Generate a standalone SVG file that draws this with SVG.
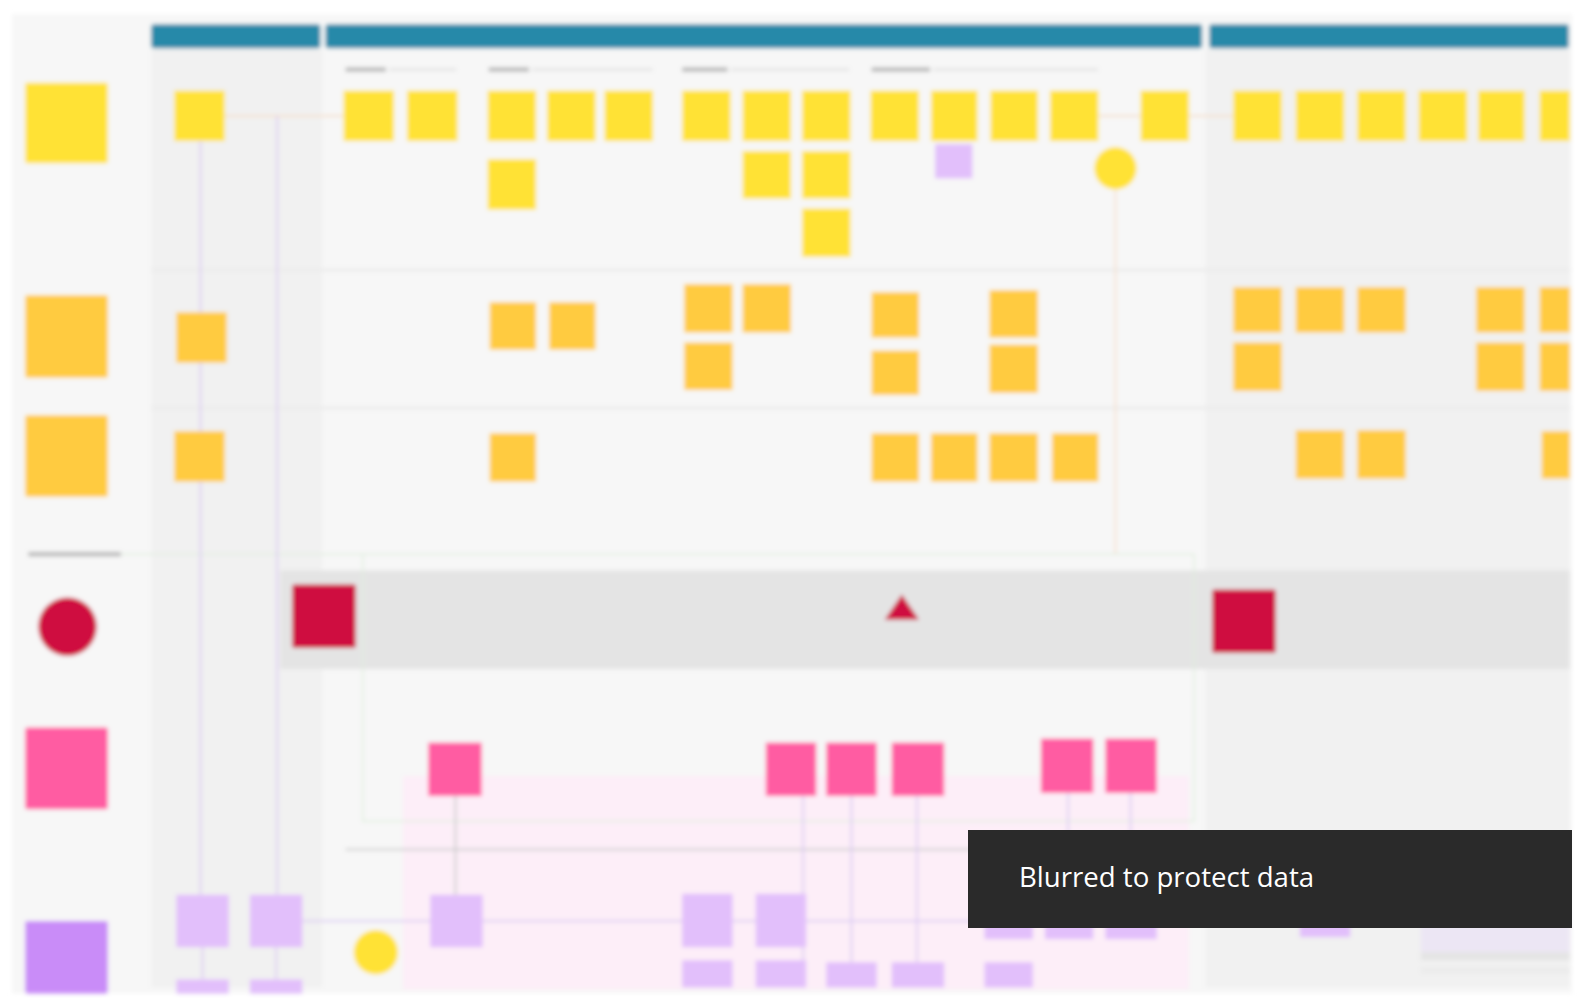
<svg xmlns="http://www.w3.org/2000/svg" width="1580" height="998" viewBox="0 0 1580 998">
<style>
.board{fill:#f7f7f7}
.colA{fill:#f1f1f1}
.hdr{fill:#2789a9}
.ya{fill:#ffe236}
.yt{fill:#ffcb40}
.red{fill:#cf0f40}
.pk{fill:#ff5ca2}
.pl{fill:#c98cf8}
.lp{fill:#e2bffb}
.div{stroke:#ececec;stroke-width:3}
.sl{fill:#b4b4b4}
.sline{stroke:#e6e6e6;stroke-width:3}
.vline{stroke:#ddcdf3;stroke-width:2;fill:none}
.gline{stroke:#cdcdcd;stroke-width:2;fill:none}
.oline{stroke:#f6dcc4;stroke-width:1.5;fill:none}
.grn{stroke:#dfeedd;stroke-width:1.5;fill:none}
.ovt{font-family:"Open Sans","Noto Sans",sans-serif;font-size:27.6px;fill:#ffffff}
</style>
<defs>
<filter id="bl" x="-2%" y="-2%" width="104%" height="104%"><feGaussianBlur stdDeviation="2.2"/></filter>
</defs>
<rect width="1580" height="998" fill="#ffffff"/>
<g filter="url(#bl)" transform="scale(1.00765)">
<rect class="board" x="12" y="14" width="1548" height="972"/>
<rect class="colA" x="150" y="48" width="170" height="932"/>
<rect class="colA" x="1196" y="48" width="362" height="932"/>
<g id="lanes">
<line class="div" x1="150" y1="268" x2="1558" y2="268"/>
<line class="div" x1="150" y1="405" x2="1558" y2="405"/>
<rect x="278" y="566" width="1280" height="98" fill="#e4e4e4"/>
<rect x="400" y="770" width="780" height="212" fill="#fdeef8"/>
</g>
<g id="headers">
<rect class="hdr" x="150" y="24" width="168" height="24" rx="3"/>
<rect class="hdr" x="323" y="24" width="870" height="24" rx="3"/>
<rect class="hdr" x="1200" y="24" width="357" height="24" rx="3"/>
</g>
<g id="sublabels">
<rect class="sl" x="343" y="67" width="40" height="4"/><line class="sline" x1="386" y1="69" x2="453" y2="69"/>
<rect class="sl" x="485" y="67" width="40" height="4"/><line class="sline" x1="528" y1="69" x2="648" y2="69"/>
<rect class="sl" x="677" y="67" width="45" height="4"/><line class="sline" x1="725" y1="69" x2="843" y2="69"/>
<rect class="sl" x="865" y="67" width="58" height="4"/><line class="sline" x1="926" y1="69" x2="1090" y2="69"/>
<rect class="sl" x="28" y="548" width="92" height="4"/>
</g>
<g id="connectors">
<line class="oline" x1="223" y1="115" x2="341" y2="115"/>
<line class="oline" x1="1090" y1="115" x2="1132" y2="115"/>
<line class="oline" x1="1180" y1="115" x2="1224" y2="115"/>
<line class="oline" x1="1107" y1="188" x2="1107" y2="550"/>
<path class="grn" d="M120 550 H1185 V815 H360 V550"/>
<line class="vline" x1="199" y1="140" x2="199" y2="888"/>
<line class="vline" x1="275" y1="115" x2="275" y2="888"/>
<line class="vline" x1="300" y1="914" x2="1160" y2="914"/>
<line class="gline" x1="343" y1="843" x2="1180" y2="843"/>
<line class="gline" x1="452" y1="790" x2="452" y2="888"/>
<line class="vline" x1="797" y1="790" x2="797" y2="955"/>
<line class="vline" x1="845" y1="790" x2="845" y2="955"/>
<line class="vline" x1="910" y1="790" x2="910" y2="955"/>
<line class="vline" x1="1060" y1="787" x2="1060" y2="915"/>
<line class="vline" x1="1122" y1="787" x2="1122" y2="915"/>
<line class="vline" x1="201" y1="940" x2="201" y2="972"/>
<line class="vline" x1="274" y1="940" x2="274" y2="972"/>
</g>
<g id="lane-labels">
<g id="lbl-actions"><rect class="ya" x="25" y="82" width="82" height="80" rx="2"/></g>
<g id="lbl-thinking"><rect class="yt" x="25" y="293" width="82" height="82" rx="2"/></g>
<g id="lbl-feeling"><rect class="yt" x="25" y="412" width="82" height="81" rx="2"/></g>
<g id="lbl-moments"><circle class="red" cx="67" cy="622" r="29"/></g>
<g id="lbl-responder"><rect class="pk" x="25" y="722" width="82" height="81" rx="2"/></g>
<g id="lbl-backend"><rect class="pl" x="25" y="914" width="82" height="72" rx="2"/></g>
</g>
<g id="actions">
<g id="a1"><rect class="ya" x="173" y="90" width="50" height="50"/></g>
<g id="a2"><rect class="ya" x="341" y="90" width="50" height="50"/></g>
<g id="a3"><rect class="ya" x="404" y="90" width="50" height="50"/></g>
<g id="a4"><rect class="ya" x="484" y="90" width="48" height="50"/></g>
<g id="a5"><rect class="ya" x="543" y="90" width="48" height="50"/></g>
<g id="a6"><rect class="ya" x="600" y="90" width="48" height="50"/></g>
<g id="a7"><rect class="ya" x="677" y="90" width="48" height="50"/></g>
<g id="a8"><rect class="ya" x="737" y="90" width="48" height="50"/></g>
<g id="a9"><rect class="ya" x="796" y="90" width="48" height="50"/></g>
<g id="a10"><rect class="ya" x="864" y="90" width="48" height="50"/></g>
<g id="a11"><rect class="ya" x="924" y="90" width="46" height="50"/></g>
<g id="a12"><rect class="ya" x="983" y="90" width="47" height="50"/></g>
<g id="a13"><rect class="ya" x="1042" y="90" width="48" height="50"/></g>
<g id="a14"><rect class="ya" x="1132" y="90" width="48" height="50"/></g>
<g id="a15"><rect class="ya" x="1224" y="90" width="48" height="50"/></g>
<g id="a16"><rect class="ya" x="1286" y="90" width="48" height="50"/></g>
<g id="a17"><rect class="ya" x="1347" y="90" width="48" height="50"/></g>
<g id="a18"><rect class="ya" x="1408" y="90" width="48" height="50"/></g>
<g id="a19"><rect class="ya" x="1467" y="90" width="46" height="50"/></g>
<g id="a20"><rect class="ya" x="1528" y="90" width="30" height="50"/></g>
<g id="a21"><rect class="ya" x="484" y="158" width="48" height="50"/></g>
<g id="a22"><rect class="ya" x="737" y="150" width="48" height="47"/></g>
<g id="a23"><rect class="ya" x="796" y="150" width="48" height="47"/></g>
<g id="a24"><rect class="ya" x="796" y="207" width="48" height="48"/></g>
<g id="a25"><rect class="lp" x="928" y="143" width="37" height="34"/></g>
<g id="a26"><circle class="ya" cx="1107" cy="167" r="21"/></g>
</g>
<g id="thinking">
<g id="t1"><rect class="yt" x="175" y="310" width="50" height="50"/></g>
<g id="t2"><rect class="yt" x="486" y="300" width="46" height="47"/></g>
<g id="t3"><rect class="yt" x="545" y="300" width="46" height="47"/></g>
<g id="t4"><rect class="yt" x="679" y="282" width="48" height="48"/></g>
<g id="t5"><rect class="yt" x="737" y="282" width="48" height="48"/></g>
<g id="t6"><rect class="yt" x="679" y="340" width="48" height="47"/></g>
<g id="t7"><rect class="yt" x="865" y="290" width="47" height="45"/></g>
<g id="t8"><rect class="yt" x="865" y="348" width="47" height="44"/></g>
<g id="t9"><rect class="yt" x="982" y="288" width="48" height="47"/></g>
<g id="t10"><rect class="yt" x="982" y="342" width="48" height="48"/></g>
<g id="t11"><rect class="yt" x="1224" y="285" width="48" height="45"/></g>
<g id="t12"><rect class="yt" x="1286" y="285" width="48" height="45"/></g>
<g id="t13"><rect class="yt" x="1347" y="285" width="48" height="45"/></g>
<g id="t14"><rect class="yt" x="1224" y="340" width="48" height="48"/></g>
<g id="t15"><rect class="yt" x="1465" y="285" width="48" height="45"/></g>
<g id="t16"><rect class="yt" x="1465" y="340" width="48" height="48"/></g>
<g id="t17"><rect class="yt" x="1528" y="285" width="30" height="45"/></g>
<g id="t18"><rect class="yt" x="1528" y="340" width="30" height="48"/></g>
</g>
<g id="feeling">
<g id="f1"><rect class="yt" x="173" y="428" width="50" height="50"/></g>
<g id="f2"><rect class="yt" x="486" y="430" width="46" height="48"/></g>
<g id="f3"><rect class="yt" x="865" y="430" width="47" height="48"/></g>
<g id="f4"><rect class="yt" x="924" y="430" width="46" height="48"/></g>
<g id="f5"><rect class="yt" x="982" y="430" width="48" height="48"/></g>
<g id="f6"><rect class="yt" x="1044" y="430" width="46" height="48"/></g>
<g id="f7"><rect class="yt" x="1286" y="427" width="48" height="48"/></g>
<g id="f8"><rect class="yt" x="1347" y="427" width="48" height="48"/></g>
<g id="f9"><rect class="yt" x="1530" y="428" width="28" height="47"/></g>
</g>
<g id="moments">
<g id="m1"><rect class="red" x="290" y="580" width="63" height="63" rx="2"/></g>
<g id="m2"><polygon class="red" points="895,590 912,615 878,615"/></g>
<g id="m3"><rect class="red" x="1203" y="585" width="63" height="63" rx="2"/></g>
</g>
<g id="responder">
<g id="r1"><rect class="pk" x="425" y="737" width="53" height="53"/></g>
<g id="r2"><rect class="pk" x="760" y="737" width="50" height="53"/></g>
<g id="r3"><rect class="pk" x="820" y="737" width="50" height="53"/></g>
<g id="r4"><rect class="pk" x="885" y="737" width="52" height="53"/></g>
<g id="r5"><rect class="pk" x="1033" y="733" width="52" height="54"/></g>
<g id="r6"><rect class="pk" x="1097" y="733" width="51" height="54"/></g>
</g>
<g id="backend">
<g id="b1"><rect class="lp" x="175" y="888" width="52" height="52"/></g>
<g id="b2"><rect class="lp" x="248" y="888" width="52" height="52"/></g>
<g id="b3"><rect class="lp" x="427" y="888" width="52" height="52"/></g>
<g id="b4"><rect class="lp" x="677" y="887" width="50" height="53"/></g>
<g id="b5"><rect class="lp" x="750" y="887" width="50" height="53"/></g>
<g id="b6"><rect class="lp" x="977" y="905" width="48" height="27"/></g>
<g id="b7"><rect class="lp" x="1037" y="905" width="48" height="27"/></g>
<g id="b8"><rect class="lp" x="1097" y="905" width="51" height="27"/></g>
<g id="b9"><rect class="lp" x="1290" y="905" width="50" height="25"/></g>
<g id="b10"><rect class="lp" x="175" y="972" width="52" height="14"/></g>
<g id="b11"><rect class="lp" x="248" y="972" width="52" height="14"/></g>
<g id="b12"><rect class="lp" x="677" y="953" width="50" height="27"/></g>
<g id="b13"><rect class="lp" x="750" y="953" width="50" height="27"/></g>
<g id="b14"><rect class="lp" x="820" y="955" width="50" height="25"/></g>
<g id="b15"><rect class="lp" x="885" y="955" width="52" height="25"/></g>
<g id="b16"><rect class="lp" x="977" y="955" width="48" height="25"/></g>
<g id="b17"><circle class="ya" cx="373" cy="945" r="22"/></g>
<g id="b18"><rect x="1410" y="905" width="148" height="40" fill="#ece6f4"/><rect x="1410" y="945" width="148" height="8" fill="#e4e4e4"/><rect x="1410" y="960" width="148" height="6" fill="#ebebeb"/></g>
</g>
</g>
<g id="overlay">
<rect x="968" y="830" width="604" height="98" fill="#2a2a2a"/>
<text class="ovt" x="1019" y="887">Blurred to protect data</text>
</g>
</svg>
